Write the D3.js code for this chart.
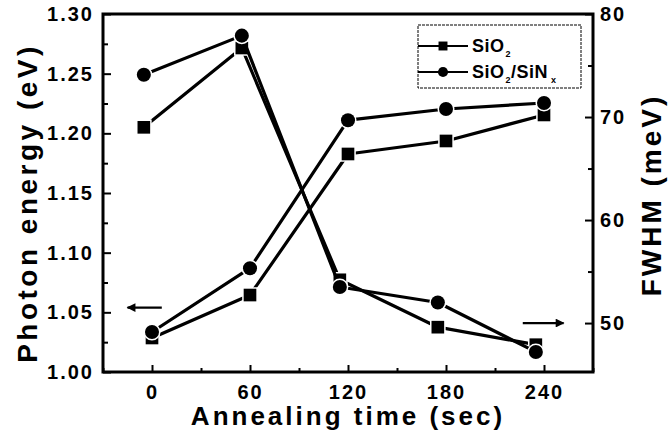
<!DOCTYPE html>
<html>
<head>
<meta charset="utf-8">
<script src="https://cdn.jsdelivr.net/npm/d3@7"></script>
<style>
  body { margin: 0; background: #fff; }
  svg { display: block; font-family: "Liberation Sans", Arial, sans-serif; }
  .tick text { font-weight: bold; font-size: 20px; letter-spacing: 2px; }
</style>
</head>
<body>
<svg width="670" height="436"></svg>
<script>
"use strict";

// 광자 에너지 (왼쪽 축) - 0, 60, ... 초
const energyTime = [0, 60, 120, 180, 240];
const energySiO2 = [1.0285, 1.0645, 1.1827, 1.1936, 1.2154];
const energySiNx = [1.0335, 1.087, 1.211, 1.2204, 1.2254];

// FWHM (오른쪽 축) - 점들이 약간 왼쪽으로 밀려 그려져 있음
const fwhmTime = [-5, 55, 115, 175, 235];
const fwhmSiO2 = [69.0, 76.7, 54.2, 49.6, 47.9];
const fwhmSiNx = [74.1, 77.9, 53.5, 52.0, 47.2];

const xTicks = [0, 60, 120, 180, 240];
const energyTicks = [1.0, 1.05, 1.1, 1.15, 1.2, 1.25, 1.3];
const fwhmTicks = [50, 60, 70, 80];

const svg = d3.select("svg");
const margin = { left: 103, right: 77, top: 14, bottom: 64 };
const W = 670, H = 436;

const x = d3.scaleLinear().domain([-30, 270]).range([margin.left, W - margin.right]);
const yL = d3.scaleLinear().domain([1.0, 1.3]).range([H - margin.bottom, margin.top]);
const yR = d3.scaleLinear().domain([45.25, 80]).range([H - margin.bottom, margin.top]);

// 보조 눈금 (짧게, 안쪽으로)
const xMinor = d3.range(-30, 271, 30).filter((v) => !xTicks.includes(v));
const yLMinor = d3.range(1.025, 1.3, 0.05);
const yRMinor = [55, 65, 75];

function axisStyle(g) {
  g.select(".domain").remove();
  g.selectAll(".tick line").attr("stroke", "#000").attr("stroke-width", 2);
}

// x 축
svg.append("g")
  .attr("transform", `translate(0, ${H - margin.bottom})`)
  .call(d3.axisBottom(x).tickValues(xTicks).tickSize(-7).tickPadding(13).tickFormat(d3.format("d")))
  .call(axisStyle);
svg.append("g")
  .attr("transform", `translate(0, ${H - margin.bottom})`)
  .call(d3.axisBottom(x).tickValues(xMinor).tickSize(-4).tickFormat(""))
  .call(axisStyle);

// 왼쪽 축
svg.append("g")
  .attr("transform", `translate(${margin.left}, 0)`)
  .call(d3.axisLeft(yL).tickValues(energyTicks).tickSize(-8).tickPadding(9).tickFormat(d3.format(".2f")))
  .call(axisStyle);
svg.append("g")
  .attr("transform", `translate(${margin.left}, 0)`)
  .call(d3.axisLeft(yL).tickValues(yLMinor).tickSize(-5).tickFormat(""))
  .call(axisStyle);

// 오른쪽 축
svg.append("g")
  .attr("transform", `translate(${W - margin.right}, 0)`)
  .call(d3.axisRight(yR).tickValues(fwhmTicks).tickSize(-8).tickPadding(7).tickFormat(d3.format("d")))
  .call(axisStyle);
svg.append("g")
  .attr("transform", `translate(${W - margin.right}, 0)`)
  .call(d3.axisRight(yR).tickValues(yRMinor).tickSize(-5).tickFormat(""))
  .call(axisStyle);

// 틀
svg.append("rect")
  .attr("x", margin.left).attr("y", margin.top)
  .attr("width", W - margin.left - margin.right)
  .attr("height", H - margin.top - margin.bottom)
  .attr("fill", "none").attr("stroke", "#000").attr("stroke-width", 3);

// 선 + 마커
function series(times, vals, yScale, shape) {
  const pts = times.map((t, i) => [x(t), yScale(vals[i])]);
  svg.append("path")
    .attr("d", d3.line()(pts))
    .attr("fill", "none").attr("stroke", "#000").attr("stroke-width", 3.2)
    .attr("stroke-linejoin", "round");
  const sym = d3.symbol().type(shape === "square" ? d3.symbolSquare : d3.symbolCircle)
    .size(shape === "square" ? 160 : 155);
  svg.selectAll(null).data(pts).enter().append("path")
    .attr("d", sym)
    .attr("transform", (d) => `translate(${d[0]}, ${d[1]})`)
    .attr("fill", "#000").attr("stroke", "#fff").attr("stroke-width", 3)
    .attr("paint-order", "stroke");
}

series(energyTime, energySiO2, yL, "square");
series(energyTime, energySiNx, yL, "circle");
series(fwhmTime, fwhmSiO2, yR, "square");
series(fwhmTime, fwhmSiNx, yR, "circle");

// 화살표 (어느 축인지 표시)
const defs = svg.append("defs");
defs.append("marker")
  .attr("id", "ah").attr("viewBox", "0 0 10 10").attr("refX", 9).attr("refY", 5)
  .attr("markerWidth", 5).attr("markerHeight", 4).attr("markerUnits", "strokeWidth")
  .attr("orient", "auto")
  .append("path").attr("d", "M0,0 L10,5 L0,10 z").attr("fill", "#000");

svg.append("line")
  .attr("x1", x(6)).attr("x2", x(-15))
  .attr("y1", yL(1.054)).attr("y2", yL(1.054))
  .attr("stroke", "#000").attr("stroke-width", 2.2).attr("marker-end", "url(#ah)");
svg.append("line")
  .attr("x1", x(227)).attr("x2", x(252))
  .attr("y1", yR(50)).attr("y2", yR(50))
  .attr("stroke", "#000").attr("stroke-width", 2.2).attr("marker-end", "url(#ah)");

// 범례
const lg = svg.append("g").attr("transform", "translate(418, 25)");
lg.append("rect").attr("width", 163).attr("height", 63)
  .attr("fill", "#fff").attr("stroke", "#000").attr("stroke-width", 1)
  .attr("stroke-dasharray", "3,1");
[["square", 21], ["circle", 47]].forEach(([shape, ly], i) => {
  lg.append("line").attr("x1", 0).attr("x2", 50).attr("y1", ly).attr("y2", ly)
    .attr("stroke", "#000").attr("stroke-width", 2);
  lg.append("path")
    .attr("d", d3.symbol().type(shape === "square" ? d3.symbolSquare : d3.symbolCircle).size(80))
    .attr("transform", `translate(25, ${ly})`).attr("fill", "#000");
  const t = lg.append("text").attr("x", 54).attr("y", ly + 6)
    .attr("font-size", 18).attr("font-weight", "bold").attr("letter-spacing", 0.5);
  t.append("tspan").text("SiO");
  t.append("tspan").text("2").attr("font-size", 9).attr("dy", 5).attr("dx", 1);
  if (i === 1) {
    t.append("tspan").text("/SiN").attr("dy", -5);
    t.append("tspan").text("x").attr("font-size", 9).attr("dy", 5).attr("dx", 3);
  }
});

// 축 제목
svg.append("text")
  .attr("transform", `translate(37, ${(margin.top + H - margin.bottom) / 2 + 10}) rotate(-90)`)
  .attr("text-anchor", "middle").attr("font-size", 28).attr("font-weight", "bold")
  .attr("letter-spacing", 3.5)
  .text("Photon energy (eV)");
svg.append("text")
  .attr("transform", `translate(661, ${(margin.top + H - margin.bottom) / 2 + 2}) rotate(-90)`)
  .attr("text-anchor", "middle").attr("font-size", 28).attr("font-weight", "bold")
  .attr("letter-spacing", 3)
  .text("FWHM (meV)");
svg.append("text")
  .attr("x", (margin.left + W - margin.right) / 2).attr("y", 425)
  .attr("text-anchor", "middle").attr("font-size", 26).attr("font-weight", "bold")
  .attr("letter-spacing", 3)
  .text("Annealing time (sec)");
</script>
</body>
</html>
